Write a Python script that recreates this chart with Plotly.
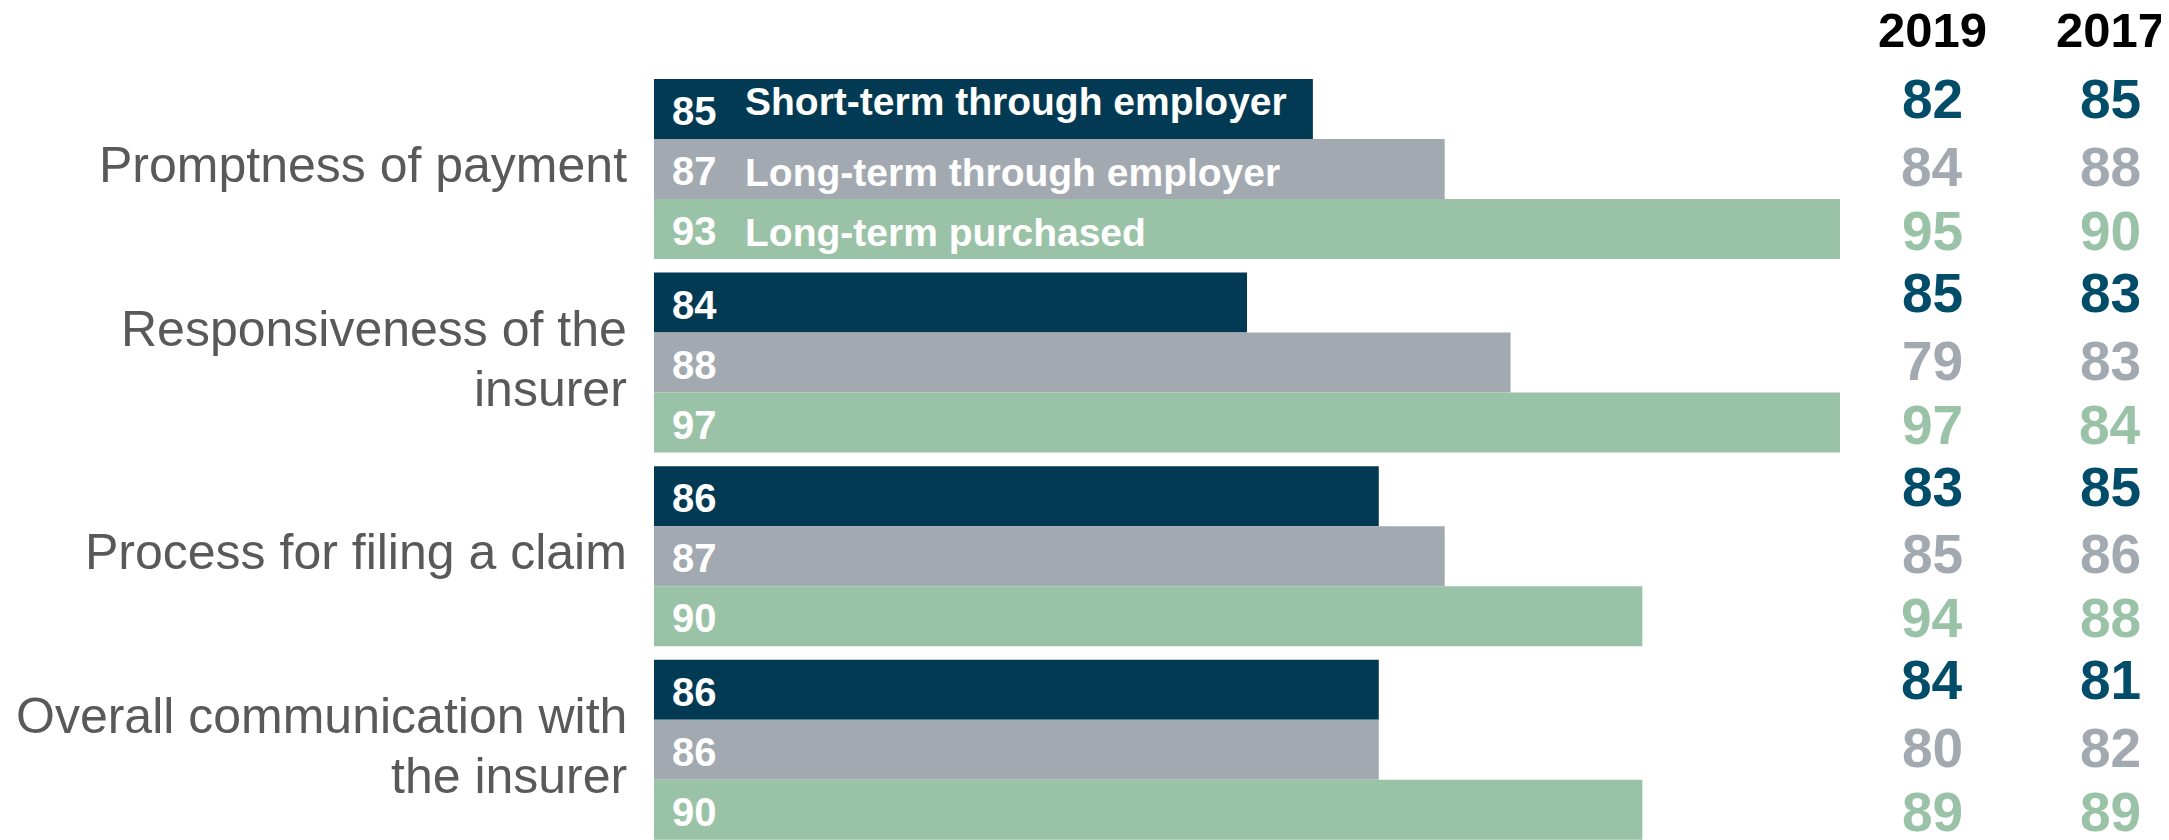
import plotly.graph_objects as go

categories = ["Promptness of payment",
              "Responsiveness of the<br>insurer",
              "Process for filing a claim",
              "Overall communication with<br>the insurer"]
series_names = ["Short-term through employer", "Long-term through employer", "Long-term purchased"]
short_term = [85, 84, 86, 86]
long_term_employer = [87, 88, 87, 86]
long_term_purchased = [93, 97, 90, 90]
values_2019 = {"short": [82, 85, 83, 84], "lte": [84, 79, 85, 80], "ltp": [95, 97, 94, 89]}
values_2017 = {"short": [85, 83, 85, 81], "lte": [88, 83, 86, 82], "ltp": [90, 84, 88, 89]}
year_labels = ["2019", "2017"]

bar_colors = ["#023A54", "#A2A9B0", "#9AC2A6"]
text_colors = ["#004C69", "#A2A9B0", "#9AC2A6"]
FONT = "Liberation Sans, Arial, sans-serif"

# page body has an 8px default margin; size the figure so it fills the window
OFF = 8
W, H = 2169 - OFF, 840 - OFF
pos = list(range(len(categories)))
series = [short_term, long_term_employer, long_term_purchased]

fig = go.Figure()
for name, vals, col in zip(series_names, series, bar_colors):
    fig.add_trace(go.Bar(y=pos, x=vals, orientation="h", name=name,
                         marker=dict(color=col, line=dict(width=0)),
                         hoverinfo="skip", showlegend=False))

annotations = []
bar_off = [-0.31, 0.0, 0.31]
for k, vals in enumerate(series):
    for i, v in enumerate(vals):
        annotations.append(dict(x=75, xref="x", y=i + bar_off[k], yref="y",
                                text=str(v), showarrow=False, xanchor="left", yanchor="middle",
                                xshift=16, yshift=-2,
                                font=dict(family=FONT, size=40, color="white", weight="bold")))
name_yshift = [7, -3, -3]
for k, nm in enumerate(series_names):
    annotations.append(dict(x=75, xref="x", y=0 + bar_off[k], yref="y",
                            text=nm, showarrow=False, xanchor="left", yanchor="middle",
                            xshift=89, yshift=name_yshift[k],
                            font=dict(family=FONT, size=39, color="white", weight="bold")))
for i, lab in enumerate(categories):
    lines = lab.split("<br>")
    n = len(lines)
    for j, ln in enumerate(lines):
        annotations.append(dict(x=(629 - OFF) / W, xref="paper", y=i, yref="y",
                                text=ln, showarrow=False, xanchor="right", yanchor="middle",
                                yshift=(n - 1) * 30 - j * 60 + 4,
                                font=dict(family=FONT, size=50, color="#595959")))
col_x = [(1932 - OFF) / W, (2110 - OFF) / W]
side_off = [-0.36, -0.01, 0.32]
for c, (yr, data) in enumerate(zip(year_labels, [values_2019, values_2017])):
    annotations.append(dict(x=col_x[c], xref="paper", y=-0.72, yref="y", text=yr,
                            showarrow=False, xanchor="center", yanchor="middle",
                            font=dict(family=FONT, size=49, color="black", weight="bold")))
    for k, key in enumerate(["short", "lte", "ltp"]):
        for i, v in enumerate(data[key]):
            annotations.append(dict(x=col_x[c], xref="paper", y=i + side_off[k], yref="y",
                                    text=str(v), showarrow=False, xanchor="center", yanchor="middle",
                                    font=dict(family=FONT, size=55, color=text_colors[k], weight="bold")))

px_per_unit = 193.6
center0 = 169 - OFF
fig.update_layout(
    width=W, height=H, margin=dict(l=0, r=0, t=0, b=0),
    paper_bgcolor="white", plot_bgcolor="white",
    barmode="group", bargap=0.07, bargroupgap=0,
    xaxis=dict(domain=[(654 - OFF) / W, (1840 - OFF) / W], range=[75, 93], visible=False, fixedrange=True),
    yaxis=dict(range=[(H - center0) / px_per_unit, -center0 / px_per_unit], visible=False, fixedrange=True),
    annotations=annotations,
)
fig.write_html("out.html")
